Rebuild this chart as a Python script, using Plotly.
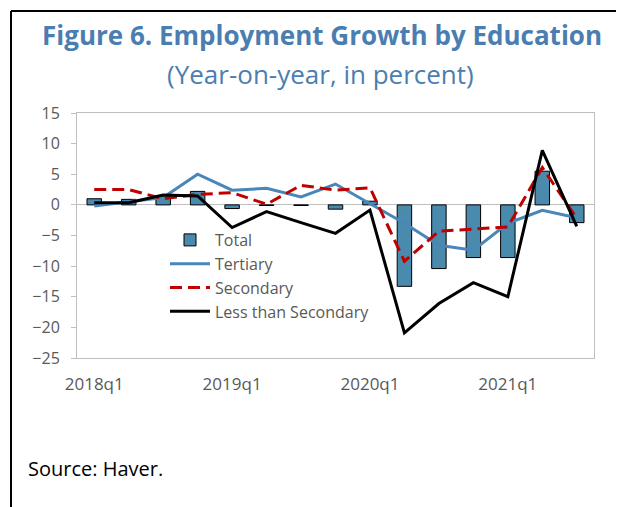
import plotly.graph_objects as go

quarters = ["2018q1", "2018q2", "2018q3", "2018q4",
            "2019q1", "2019q2", "2019q3", "2019q4",
            "2020q1", "2020q2", "2020q3", "2020q4",
            "2021q1", "2021q2", "2021q3"]
total = [1.0, 0.9, 1.3, 2.2, -0.6, -0.1, -0.1, -0.7, 0.6, -13.3, -10.4, -8.6, -8.6, 5.5, -2.9]
tertiary = [-0.2, 0.5, 1.2, 5.0, 2.4, 2.7, 1.3, 3.4, 0.2, -3.0, -6.6, -7.4, -3.0, -0.9, -2.1]
secondary = [2.5, 2.5, 1.0, 1.7, 2.0, 0.1, 3.2, 2.4, 2.8, -9.2, -4.3, -3.9, -3.6, 6.1, -2.2]
less_secondary = [0.35, 0.35, 1.6, 1.45, -3.7, -1.1, -2.9, -4.65, -0.85, -20.9, -16.1, -12.7, -15.0, 8.9, -3.5]
tick_labels = ["2018q1", "2019q1", "2020q1", "2021q1"]

xi = list(range(len(quarters)))
tick_idx = [quarters.index(t) for t in tick_labels]

# page body has an 8px margin; work in reference pixels and shift
OFF = 8
W, H = 624 - OFF, 507 - OFF
ML, MT = 77 - OFF, 113 - OFF
MR, MB = W - (594 - OFF), H - (358 - OFF)
PW, PH = W - ML - MR, H - MT - MB

def px_x(p):
    return (p - OFF - ML) / PW

def px_y(p):
    return 1 - (p - OFF - MT) / PH

FONT = "Open Sans"
GREY = "#595959"

fig = go.Figure()
fig.add_trace(go.Bar(x=xi, y=total, name="Total", width=0.42,
                     marker=dict(color="#4A8AAD", line=dict(color="black", width=1))))
fig.add_trace(go.Scatter(x=xi, y=tertiary, name="Tertiary", mode="lines",
                         line=dict(color="#4A86B8", width=3)))
fig.add_trace(go.Scatter(x=xi, y=secondary, name="Secondary", mode="lines",
                         line=dict(color="#C00000", width=3, dash="12px,6px")))
fig.add_trace(go.Scatter(x=xi, y=less_secondary, name="Less than Secondary", mode="lines",
                         line=dict(color="black", width=3)))

fig.update_layout(
    width=W, height=H,
    margin=dict(l=ML, r=MR, t=MT, b=MB),
    paper_bgcolor="white", plot_bgcolor="white",
    font=dict(family=FONT, color=GREY, size=16),
    showlegend=True,
    legend=dict(x=px_x(165), y=px_y(223), xanchor="left", yanchor="top",
                bgcolor="rgba(0,0,0,0)", font=dict(size=16, color=GREY),
                tracegroupgap=0, itemwidth=40),
)
fig.update_xaxes(range=[-0.5, len(quarters) - 0.5], tickmode="array",
                 tickvals=tick_idx, ticktext=tick_labels,
                 ticks="outside", ticklen=11, tickcolor="rgba(0,0,0,0)",
                 showgrid=False, zeroline=False,
                 showline=True, linecolor="#BFBFBF", linewidth=1, mirror=True,
                 tickfont=dict(size=17, color=GREY))
fig.update_yaxes(range=[-25, 15], dtick=5, ticks="outside", ticklen=5,
                 tickcolor="#BFBFBF", showgrid=False,
                 zeroline=True, zerolinecolor="#BFBFBF", zerolinewidth=1,
                 showline=True, linecolor="#BFBFBF", linewidth=1, mirror=True,
                 ticklabelstandoff=8,
                 tickfont=dict(size=16, color=GREY))

# Frame lines (top and left)
fig.add_shape(type="line", xref="paper", yref="paper",
              x0=px_x(11), x1=px_x(640), y0=px_y(11), y1=px_y(11),
              line=dict(color="black", width=2))
fig.add_shape(type="line", xref="paper", yref="paper",
              x0=px_x(11), x1=px_x(11), y0=px_y(11), y1=px_y(520),
              line=dict(color="black", width=2))

fig.add_annotation(text="<b>Figure 6. Employment Growth by Education</b>",
                   xref="paper", yref="paper", x=px_x(322), y=px_y(35),
                   xanchor="center", yanchor="middle", showarrow=False,
                   font=dict(family=FONT, size=26, color="#4A7EB0"))
fig.add_annotation(text="(Year-on-year, in percent)",
                   xref="paper", yref="paper", x=px_x(320), y=px_y(74),
                   xanchor="center", yanchor="middle", showarrow=False,
                   font=dict(family=FONT, size=26, color="#4A7EB0"))
fig.add_annotation(text="Source: Haver.",
                   xref="paper", yref="paper", x=px_x(26), y=px_y(468),
                   xanchor="left", yanchor="middle", showarrow=False,
                   font=dict(family=FONT, size=20, color="black"))

fig.write_html("out.html")
